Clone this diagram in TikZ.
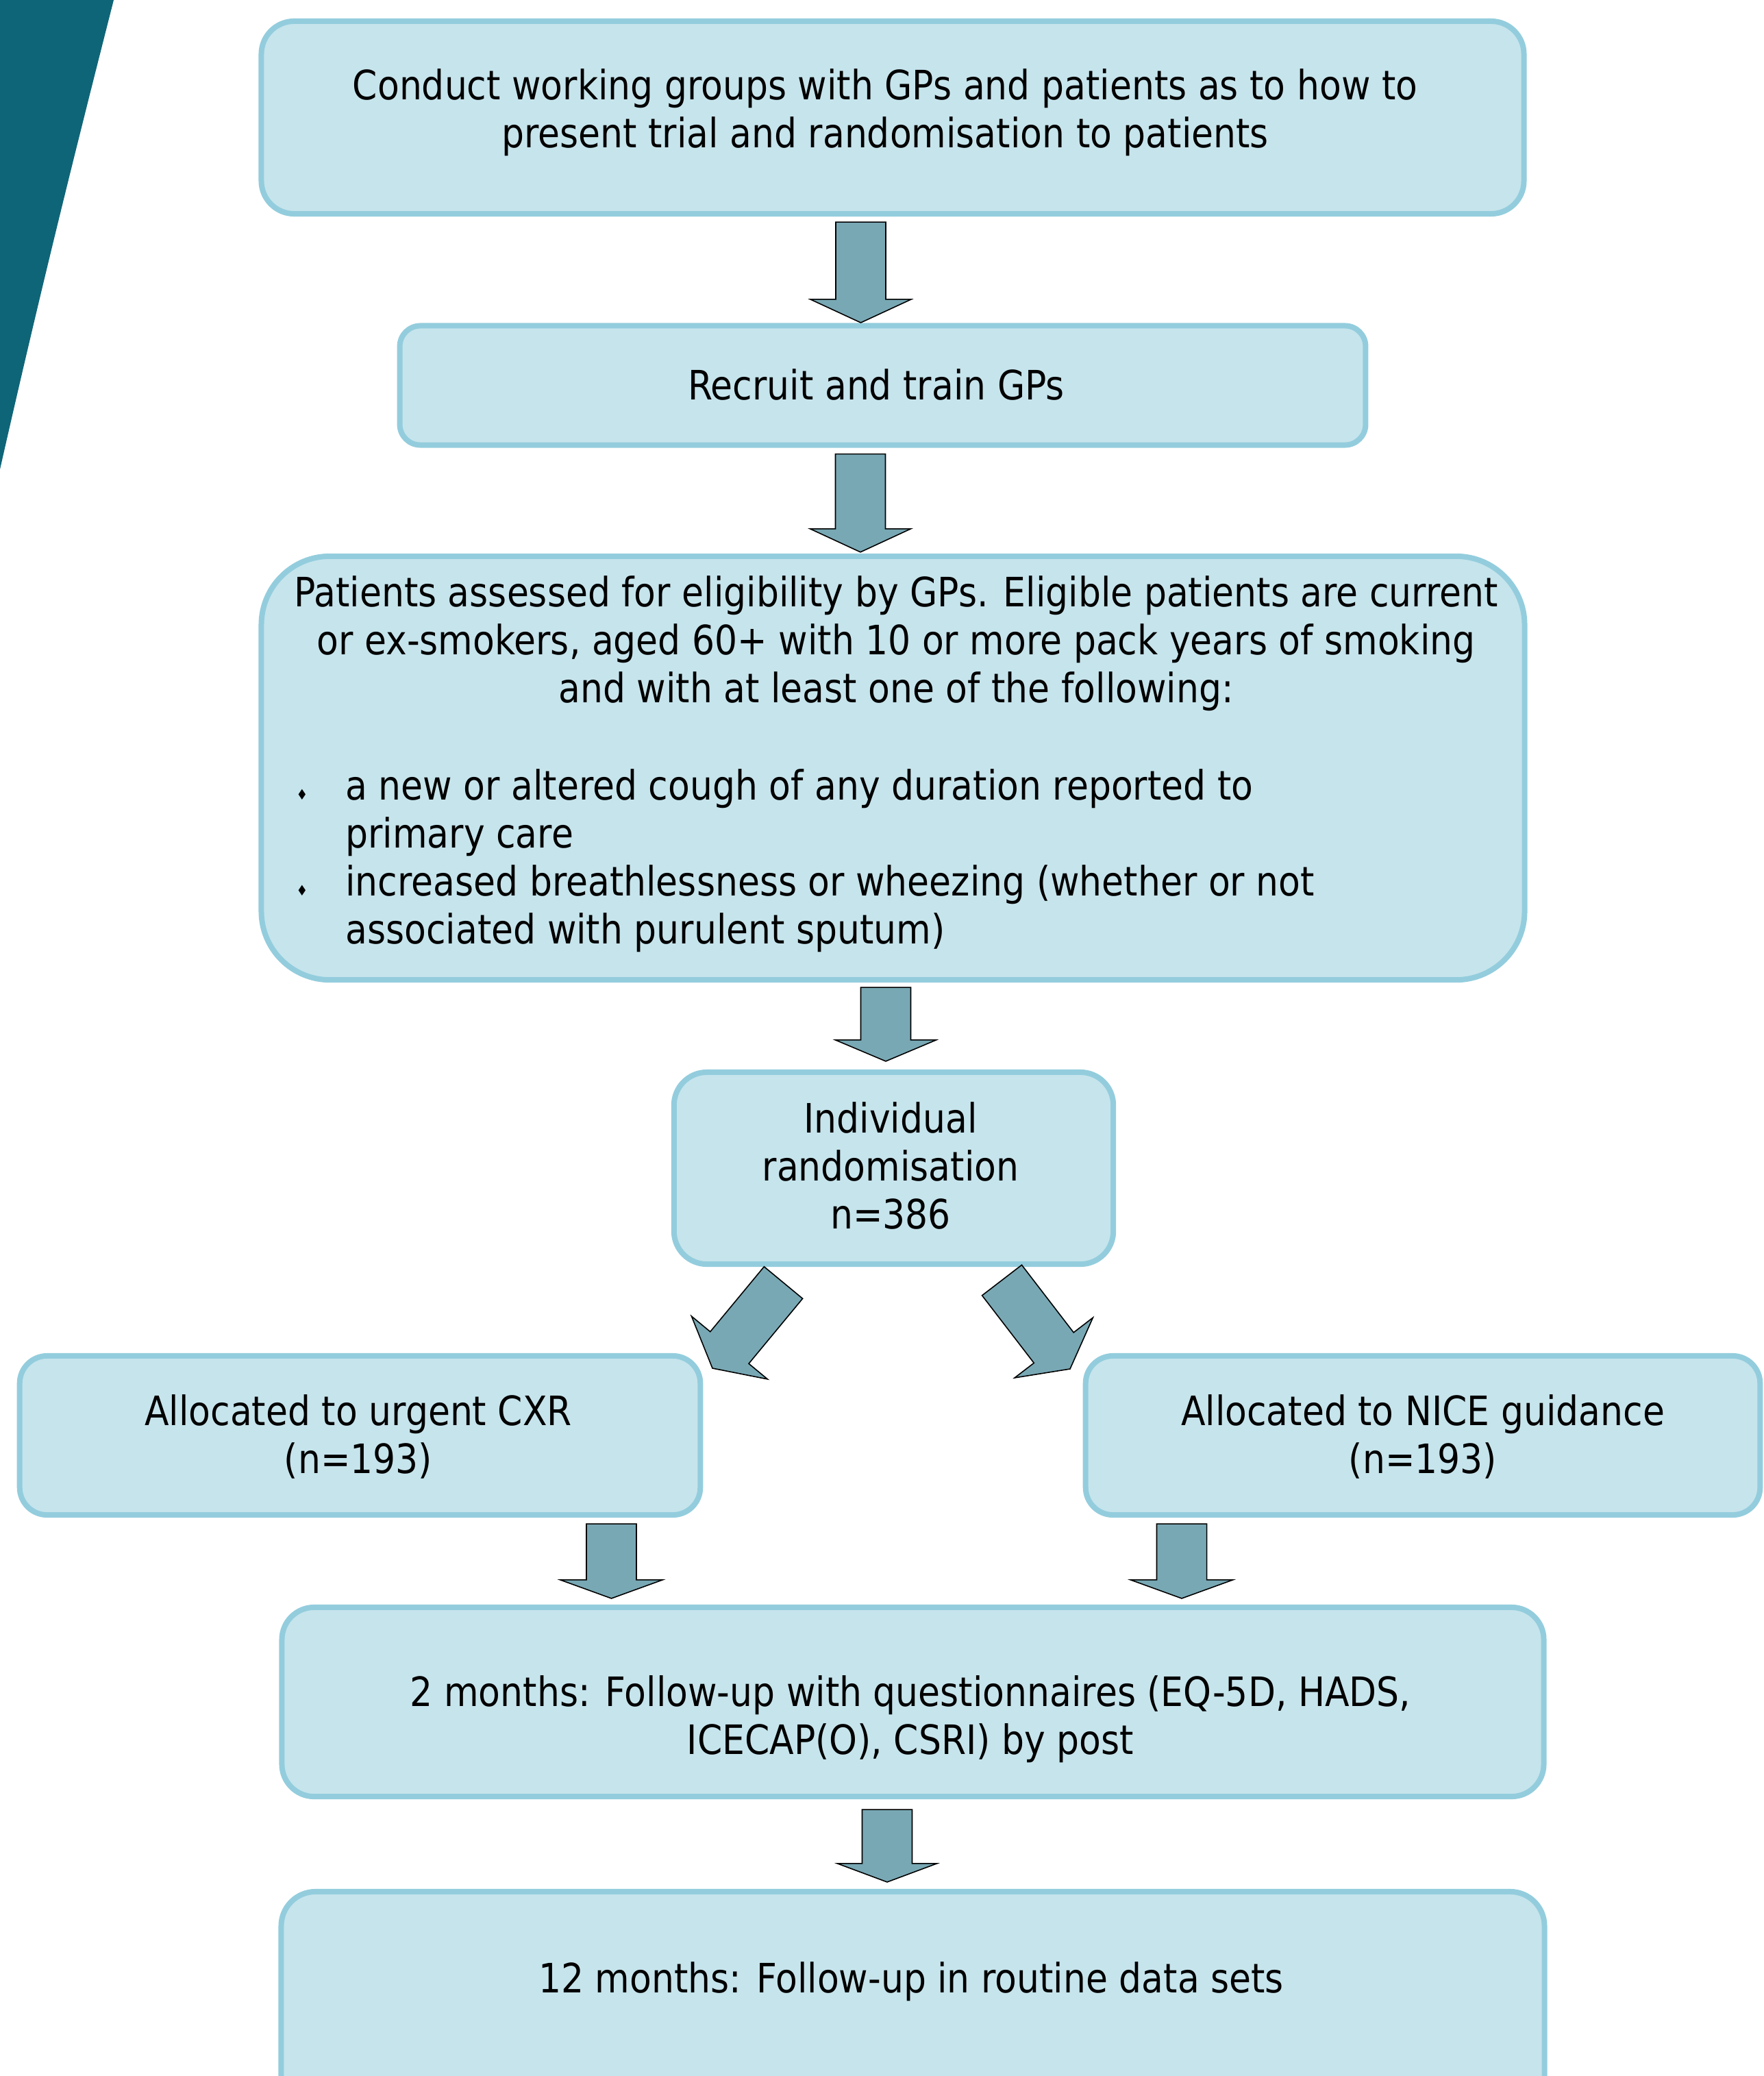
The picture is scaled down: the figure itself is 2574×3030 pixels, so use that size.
\documentclass[tikz,border=0pt]{standalone}
\usepackage{fontspec}
\setmainfont{DejaVu Sans}[FakeStretch=0.88]
\usetikzlibrary{calc}
\definecolor{boxfill}{HTML}{C6E4EC}
\definecolor{boxline}{HTML}{93CDDD}
\definecolor{arrfill}{HTML}{78A8B4}
\definecolor{bandteal}{HTML}{0E6578}
\newcommand{\txtlines}[1]{\begin{tabular}[t]{@{}c@{}}#1\end{tabular}}
% block arrow: start, end, head length, shaft half width, head half width
\newcommand{\blockarrow}[5]{%
  \coordinate (tmpH) at ($(#2)!#3!(#1)$);
  \draw[blockarr] ($(#1)!#4!-90:(#2)$) -- ($(tmpH)!#4!-90:(#2)$) -- ($(tmpH)!#5!-90:(#2)$)
    -- (#2) -- ($(tmpH)!#5!90:(#2)$) -- ($(tmpH)!#4!90:(#2)$) -- ($(#1)!#4!90:(#2)$) -- cycle;
}
\tikzset{
  box/.style={draw=boxline, fill=boxfill, line width=0.08cm, inner sep=0pt},
  txt/.style={inner sep=0pt, font=\fontsize{16.8pt}{19.92pt}\selectfont, text=black},
  blockarr/.style={fill=arrfill, draw=black, line width=0.45pt, line join=miter},
}
\begin{document}
\begin{tikzpicture}[x=0.01cm, y=-0.01cm]
\useasboundingbox (0,0) rectangle (2574,3030);
\fill[white] (0,0) rectangle (2574,3030);
% teal band
\fill[bandteal] (0,0) -- (166,0) .. controls (110,220) and (60,420) .. (0,685) -- cycle;

% boxes
\node[box, rounded corners=0.48cm, minimum width=18.42cm, minimum height=2.81cm] (b1) at (1303,171.5) {};
\node[box, rounded corners=0.30cm, minimum width=14.09cm, minimum height=1.74cm] (b2) at (1288.5,562.5) {};
\node[box, rounded corners=1.0cm, minimum width=18.43cm, minimum height=6.18cm] (b3) at (1303.5,1121) {};
\node[box, rounded corners=0.48cm, minimum width=6.41cm, minimum height=2.80cm] (b4) at (1304.5,1705) {};
\node[box, rounded corners=0.40cm, minimum width=9.93cm, minimum height=2.32cm] (b5) at (525.5,2095) {};
\node[box, rounded corners=0.40cm, minimum width=9.84cm, minimum height=2.32cm] (b6) at (2077,2095) {};
\node[box, rounded corners=0.47cm, minimum width=18.41cm, minimum height=2.76cm] (b7) at (1332.5,2484) {};
\node[box, rounded corners=0.50cm, minimum width=18.43cm, minimum height=3.39cm] (b8) at (1332.5,2930.5) {};

% texts
\node[txt, anchor=base] (t1) at (1292,145) {\txtlines{Conduct working groups with GPs and patients as to how to\\present trial and randomisation to patients}};
\node[txt, anchor=base] (t2) at (1279,583) {Recruit and train GPs};
\node[txt, anchor=base] (t3) at (1308,885) {\txtlines{Patients assessed for eligibility by GPs. Eligible patients are current\\or ex-smokers, aged 60+ with 10 or more pack years of smoking\\and with at least one of the following:}};
\node[txt, anchor=base west] (t3b) at (432,1167) {\begin{tabular}[t]{@{}c@{\hspace{0.55cm}}l@{}}
{\fontsize{6pt}{7pt}\selectfont ♦} & a new or altered cough of any duration reported to\\
 & primary care\\
{\fontsize{6pt}{7pt}\selectfont ♦} & increased breathlessness or wheezing (whether or not\\
 & associated with purulent sputum)
\end{tabular}};
\node[txt, anchor=base] (t4) at (1300,1653) {\txtlines{Individual\\randomisation\\n=386}};
\node[txt, anchor=base] (t5) at (523,2080) {\txtlines{Allocated to urgent CXR\\(n=193)}};
\node[txt, anchor=base] (t6) at (2077,2080) {\txtlines{Allocated to NICE guidance\\(n=193)}};
\node[txt, anchor=base] (t7) at (1329,2490) {\txtlines{2 months: Follow-up with questionnaires (EQ-5D, HADS,\\ICECAP(O), CSRI) by post}};
\node[txt, anchor=base] (t8) at (1330,2908) {12 months: Follow-up in routine data sets};

% arrow end points
\coordinate (a1s) at ($(b1.south)+(-46.5,8)$);
\coordinate (a1e) at ($(b2.north)+(-32,-0.5)$);
\coordinate (a2s) at ($(b2.south)+(-32.5,9)$);
\coordinate (a2e) at ($(b3.north)+(-47.5,-2)$);
\coordinate (a3s) at ($(b3.south)+(-10.5,7)$);
\coordinate (a3e) at ($(b4.north)+(-11.5,-12)$);
\coordinate (a4s) at ($(b5.south)+(367,9)$);
\coordinate (a4e) at ($(b7.north)+(-440,-9)$);
\coordinate (a5s) at ($(b6.south)+(-352,9)$);
\coordinate (a5e) at ($(b7.north)+(392.5,-9)$);
\coordinate (a6s) at ($(b7.south)+(-37.5,15)$);
\coordinate (a6e) at ($(b8.north)+(-37.5,-10)$);
\coordinate (dls) at (1143.5,1872);
\coordinate (dle) at (1040,1997);
\coordinate (drs) at (1462.5,1868.5);
\coordinate (dre) at (1562,1998);

\blockarrow{a1s}{a1e}{0.34cm}{0.365cm}{0.735cm}
\blockarrow{a2s}{a2e}{0.34cm}{0.365cm}{0.735cm}
\blockarrow{a3s}{a3e}{0.31cm}{0.365cm}{0.735cm}
\blockarrow{a4s}{a4e}{0.27cm}{0.365cm}{0.745cm}
\blockarrow{a5s}{a5e}{0.27cm}{0.365cm}{0.745cm}
\blockarrow{a6s}{a6e}{0.27cm}{0.365cm}{0.725cm}
\blockarrow{dls}{dle}{0.39cm}{0.365cm}{0.72cm}
\blockarrow{drs}{dre}{0.39cm}{0.365cm}{0.72cm}
\end{tikzpicture}
\end{document}
